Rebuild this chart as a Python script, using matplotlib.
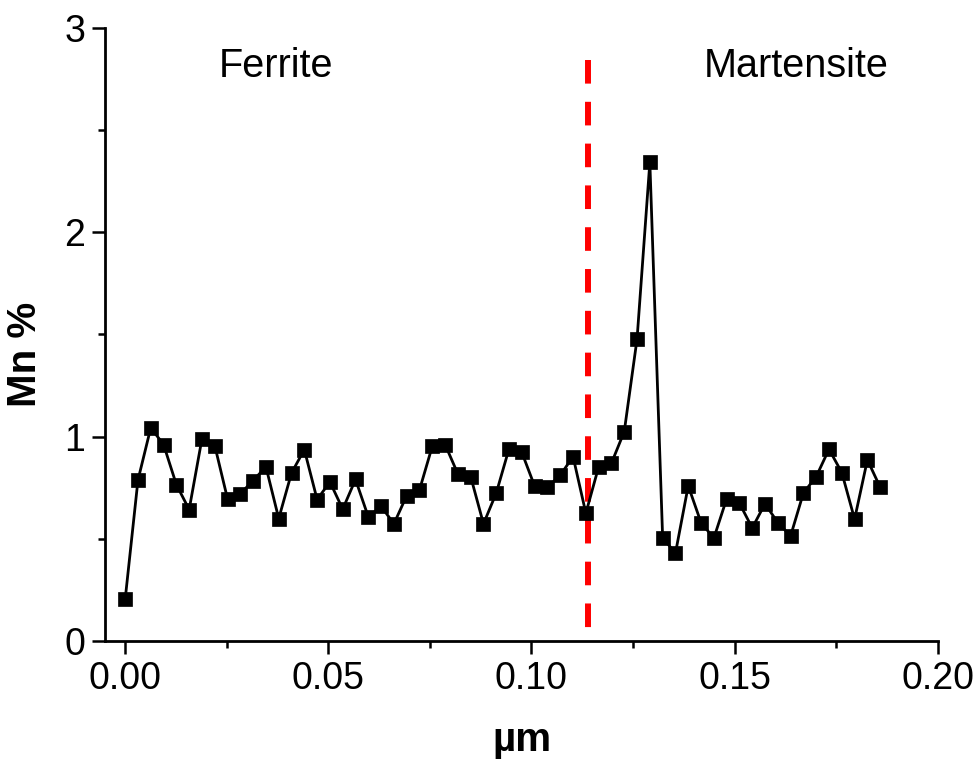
import matplotlib
matplotlib.use("Agg")
import matplotlib.pyplot as plt
from matplotlib.ticker import MultipleLocator, FormatStrFormatter

plt.rcParams['font.family'] = ['Liberation Sans', 'DejaVu Sans']

# line scan positions (um) and Mn content (%)
pos = [0.00000, 0.00315, 0.00630, 0.00945, 0.01260, 0.01575, 0.01890, 0.02205,
       0.02520, 0.02835, 0.03150, 0.03465, 0.03780, 0.04095, 0.04410, 0.04725,
       0.05040, 0.05355, 0.05670, 0.05985, 0.06300, 0.06615, 0.06930, 0.07245,
       0.07560, 0.07875, 0.08190, 0.08505, 0.08820, 0.09135, 0.09450, 0.09765,
       0.10080, 0.10395, 0.10710, 0.11025, 0.11340, 0.11655, 0.11970, 0.12285,
       0.12600, 0.12915, 0.13230, 0.13545, 0.13860, 0.14175, 0.14490, 0.14805,
       0.15120, 0.15435, 0.15750, 0.16065, 0.16380, 0.16695, 0.17010, 0.17325,
       0.17640, 0.17955, 0.18270, 0.18585]
mn = [0.204, 0.787, 1.043, 0.961, 0.765, 0.643, 0.989, 0.956,
      0.695, 0.720, 0.785, 0.852, 0.599, 0.822, 0.936, 0.692,
      0.778, 0.645, 0.790, 0.607, 0.659, 0.573, 0.711, 0.739,
      0.953, 0.961, 0.817, 0.804, 0.573, 0.724, 0.941, 0.922,
      0.757, 0.752, 0.811, 0.902, 0.625, 0.852, 0.870, 1.024,
      1.477, 2.341, 0.506, 0.429, 0.759, 0.579, 0.503, 0.695,
      0.674, 0.553, 0.671, 0.579, 0.514, 0.724, 0.804, 0.938,
      0.824, 0.596, 0.886, 0.752]

# phase boundary
boundary_x = 0.1139
boundary_y = [2.84, 0.059]

fig = plt.figure(figsize=(9.74, 7.62), dpi=100)
ax = fig.add_axes([0.1082, 0.1588, 0.8545, 0.8049])

ax.plot(pos, mn, '-', color='black', lw=2.0, marker='s', ms=9.5,
        mfc='black', mec='black', mew=0.5, zorder=3)

lw_b = 4.3
ax.plot([boundary_x, boundary_x], boundary_y, color='#ff0000', lw=lw_b,
        linestyle=(0, (17.0 / lw_b, 13.1 / lw_b)), dash_capstyle='butt',
        zorder=2)

ax.text(0.0371, 2.757, "Ferrite", fontsize=28.5, ha='center', va='baseline')
ax.text(0.1651, 2.757, "Martensite", fontsize=28.5, ha='center', va='baseline')

ax.set_xlim(-0.00487, 0.2)
ax.set_ylim(0, 3)

ax.xaxis.set_major_locator(MultipleLocator(0.05))
ax.xaxis.set_minor_locator(MultipleLocator(0.025))
ax.xaxis.set_major_formatter(FormatStrFormatter('%.2f'))
ax.yaxis.set_major_locator(MultipleLocator(1))
ax.yaxis.set_minor_locator(MultipleLocator(0.5))

for s in ['top', 'right']:
    ax.spines[s].set_visible(False)
for s in ['left', 'bottom']:
    ax.spines[s].set_linewidth(2.0)

ax.tick_params(which='major', direction='out', length=9.5, width=1.8,
               labelsize=27, pad=5)
ax.tick_params(which='minor', direction='out', length=5.3, width=1.8)

ax.set_xlabel("\u00b5m", fontsize=29, fontweight='bold', labelpad=17)
ax.set_ylabel("Mn %", fontsize=29, fontweight='bold')
ax.yaxis.set_label_coords(-0.074, 0.467)

fig.savefig("out.png", dpi=100)
